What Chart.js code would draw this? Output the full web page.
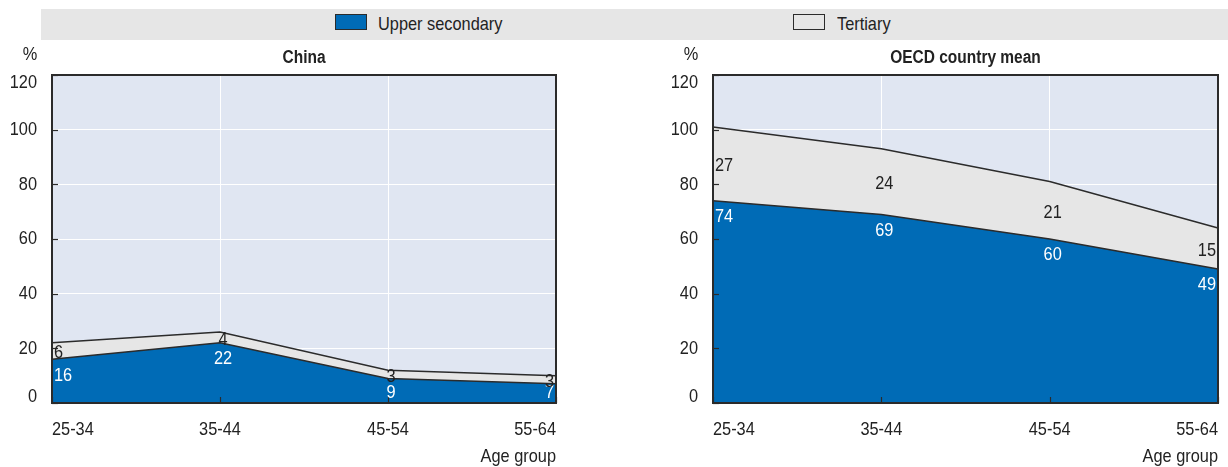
<!DOCTYPE html>
<html>
<head>
<meta charset="utf-8">
<script src="https://cdn.jsdelivr.net/npm/chart.js@4/dist/chart.umd.min.js"></script>
<style>
  html, body { margin: 0; padding: 0; background: #fff; }
  body { width: 1228px; height: 467px; position: relative; overflow: hidden;
         font-family: 'Liberation Sans', Arial, sans-serif; }
  #legend { position: absolute; left: 41px; top: 9px; width: 1187px; height: 31px; background: #e6e6e6; }
  .lg-box { position: absolute; top: 5px; width: 32px; height: 16px; box-sizing: border-box; border: 1.5px solid #2b2b2b; }
  .lg-text { position: absolute; top: 0; line-height: 29px; font-size: 19px; color: #222; white-space: nowrap;
             transform: scaleX(0.86); transform-origin: left center; }
  canvas { position: absolute; top: 0; }
</style>
</head>
<body>
<div id="legend">
  <div class="lg-box" style="left:294px;background:#006bb6"></div>
  <div class="lg-text" style="left:337px">Upper secondary</div>
  <div class="lg-box" style="left:752px;background:#e6e6e6"></div>
  <div class="lg-text" style="left:796px">Tertiary</div>
</div>
<canvas id="china" width="614" height="467" style="left:0;width:614px;height:467px"></canvas>
<canvas id="oecd" width="614" height="467" style="left:614px;width:614px;height:467px"></canvas>
<script>
// Educational attainment by age group, in % of the population
const AGE_GROUPS = ['25-34', '35-44', '45-54', '55-64'];
const CHINA_UPPER = [16, 22, 9, 7];
const CHINA_TERTIARY = [6, 4, 3, 3];
const OECD_UPPER = [74, 69, 60, 49];
const OECD_TERTIARY = [27, 24, 21, 15];
const Y_TICKS = [0, 20, 40, 60, 80, 100, 120];

const FONT = "'Liberation Sans', Arial, sans-serif";
const SQUEEZE = 0.86;          // condensed look for all chart text
const BLUE = '#006bb6';
const GREY = '#e6e6e6';
const PLOT_BG = '#e0e6f2';
const INK = '#2b2b2b';
const TEXT = '#222';

Chart.defaults.font.family = FONT;

// draws horizontally condensed text
function txt(ctx, s, x, y, align, font, color) {
  ctx.save();
  ctx.font = font;
  ctx.fillStyle = color;
  ctx.textBaseline = 'middle';
  ctx.textAlign = align;
  ctx.translate(x, y);
  ctx.scale(SQUEEZE, 1);
  ctx.fillText(s, 0, 0);
  ctx.restore();
}

// Panel furniture: background, frame, inner ticks, axis labels, titles and value labels
const panelPlugin = {
  id: 'panel',
  beforeDraw(chart) {
    const { ctx, chartArea: a } = chart;
    ctx.save();
    ctx.fillStyle = PLOT_BG;
    ctx.fillRect(a.left, a.top, a.right - a.left, a.bottom - a.top);
    ctx.restore();
  },
  afterDatasetsDraw(chart) {
    const { ctx, chartArea: a, scales: { x, y } } = chart;
    const opts = chart.options.plugins.panel;
    const f = `19px ${FONT}`;
    ctx.save();
    // inner tick marks
    ctx.strokeStyle = INK;
    ctx.lineWidth = 1.2;
    Y_TICKS.forEach(v => {
      const py = Math.round(y.getPixelForValue(v)) + 0.5;
      ctx.beginPath(); ctx.moveTo(a.left, py); ctx.lineTo(a.left + 6, py); ctx.stroke();
    });
    AGE_GROUPS.forEach((g, i) => {
      const px = Math.round(x.getPixelForValue(i)) + 0.5;
      ctx.beginPath(); ctx.moveTo(px, a.bottom); ctx.lineTo(px, a.bottom - 6); ctx.stroke();
    });
    // frame
    ctx.lineWidth = 2;
    ctx.strokeRect(a.left, a.top, a.right - a.left, a.bottom - a.top);
    ctx.restore();

    // value labels and category labels
    const upper = chart.data.datasets[0].data;
    const tert = chart.data.datasets[1].data;
    const last = AGE_GROUPS.length - 1;
    AGE_GROUPS.forEach((g, i) => {
      const cx = x.getPixelForValue(i);
      let px = cx + 3, align = 'center';
      if (i === 0) { align = 'left'; px = a.left + 2; }
      else if (i === last) { align = 'right'; px = a.right - 2; }
      const yu = y.getPixelForValue(upper[i]);
      const yt = y.getPixelForValue(upper[i] + tert[i]);
      txt(ctx, String(upper[i]), px, Math.min(yu + 16, a.bottom - 10), align, f, '#ffffff');
      txt(ctx, String(tert[i]), px, (yu + yt) / 2 + 2, align, f, TEXT);

      const lalign = i === 0 ? 'left' : (i === last ? 'right' : 'center');
      txt(ctx, g, cx, 430, lalign, f, TEXT);
    });

    // y-axis labels, kept inside the frame height
    Y_TICKS.forEach(v => {
      const py = Math.min(Math.max(y.getPixelForValue(v), a.top + 8), a.bottom - 6);
      txt(ctx, String(v), a.left - 15, py, 'right', f, TEXT);
    });
    txt(ctx, '%', a.left - 22, 55, 'center', f, TEXT);

    // panel title
    txt(ctx, opts.title, (a.left + a.right) / 2, 58, 'center', `bold 18px ${FONT}`, TEXT);

    // axis title
    txt(ctx, 'Age group', a.right, 457, 'right', f, TEXT);
  }
};

function makePanel(id, title, upper, tertiary, padLeft, padRight) {
  return new Chart(document.getElementById(id), {
    type: 'line',
    data: {
      labels: AGE_GROUPS,
      datasets: [
        { label: 'Upper secondary', data: upper, fill: 'origin', backgroundColor: BLUE,
          borderColor: INK, borderWidth: 1.5, pointRadius: 0, tension: 0 },
        { label: 'Tertiary', data: tertiary, fill: '-1', backgroundColor: GREY,
          borderColor: INK, borderWidth: 1.5, pointRadius: 0, tension: 0 }
      ]
    },
    options: {
      responsive: false,
      animation: false,
      layout: { padding: { left: padLeft, right: padRight, top: 75, bottom: 0 } },
      plugins: { legend: { display: false }, tooltip: { enabled: false }, panel: { title } },
      scales: {
        x: {
          offset: false,
          grid: { color: '#ffffff', lineWidth: 1, drawTicks: false },
          border: { display: false },
          ticks: { display: false },
          afterFit(s) { s.height = 64; }
        },
        y: {
          stacked: true,
          min: 0, max: 120,
          grid: { color: '#ffffff', lineWidth: 1, drawTicks: false },
          border: { display: false },
          ticks: { display: false, stepSize: 20 },
          afterFit(s) { s.width = 0; }
        }
      }
    },
    plugins: [panelPlugin]
  });
}

makePanel('china', 'China', CHINA_UPPER, CHINA_TERTIARY, 52, 58);
makePanel('oecd', 'OECD country mean', OECD_UPPER, OECD_TERTIARY, 99, 10);
</script>
</body>
</html>
